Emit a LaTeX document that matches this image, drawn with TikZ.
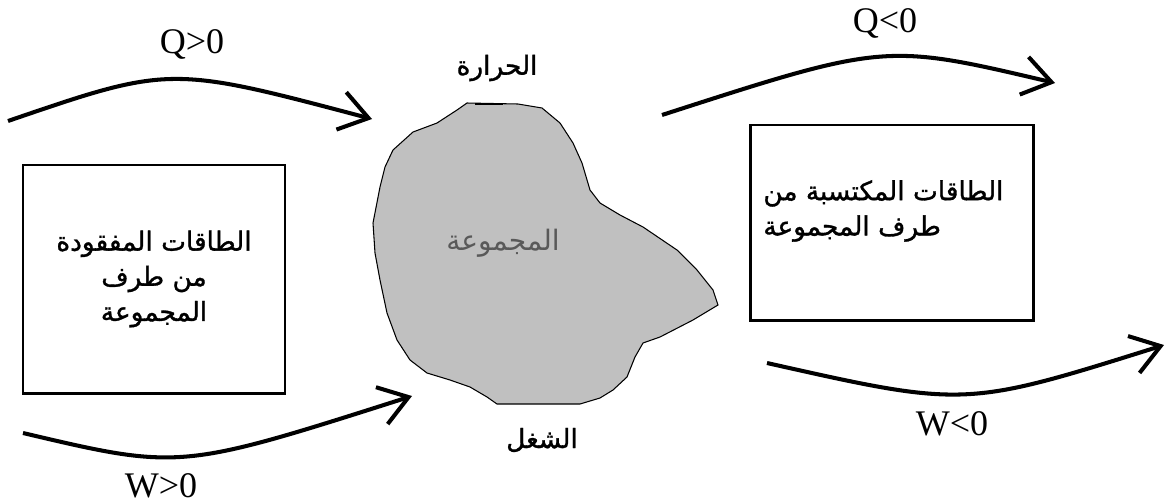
\documentclass[tikz,border=0pt]{standalone}
\usepackage{fontspec}
\setmainfont{Liberation Serif}
\newfontfamily\arabicfont[Script=Arabic, FakeBold=1.2]{DejaVu Sans}
\newfontfamily\arabiclight[Script=Arabic]{DejaVu Sans}
\TeXXeTstate=1
\usepackage{xcolor}
\usepackage{tikz}
\usetikzlibrary{arrows.meta,positioning}
\definecolor{blobgray}{HTML}{C0C0C0}

\begin{document}
\begin{tikzpicture}[
  >={Straight Barb[length=16pt,width=22pt]},
  flow/.style={->, line width=2.3pt},
  frame/.style={draw, line width=1.7pt},
  sign/.style={anchor=base, font=\fontsize{20.5}{24}\selectfont},
  artext/.style={font=\arabicfont\fontsize{15}{20}\selectfont, align=center, inner sep=0pt}
]
\useasboundingbox (0,0) rectangle (23.36,10.06);

% The system: grey blob in the middle
\filldraw[fill=blobgray, draw=black, line width=0.6pt]
  (9.34,8.00) -- (10.36,7.98) -- (10.84,7.90) -- (11.20,7.60) -- (11.46,7.20)
  -- (11.64,6.80) -- (11.80,6.26) -- (12.00,6.00) -- (12.40,5.76) -- (12.86,5.52)
  -- (13.54,5.06) -- (13.94,4.66) -- (14.26,4.26) -- (14.36,3.96) -- (13.86,3.66)
  -- (13.20,3.32) -- (12.86,3.20) -- (12.70,2.92) -- (12.54,2.52) -- (12.26,2.26)
  -- (12.00,2.10) -- (11.60,1.98) -- (9.94,1.98) -- (9.74,2.12) -- (9.40,2.32)
  -- (9.00,2.46) -- (8.54,2.60) -- (8.20,2.86) -- (7.94,3.26) -- (7.74,3.80)
  -- (7.60,4.46) -- (7.50,5.00) -- (7.46,5.60) -- (7.60,6.32) -- (7.70,6.72)
  -- (7.86,7.06) -- (8.26,7.42) -- (8.74,7.60) -- (9.14,7.86) -- cycle;
\draw[line width=1.3pt] (9.50,7.98) -- (10.06,7.98);
\node[artext, text=black!65, font=\arabiclight\fontsize{16}{18}\selectfont] (sys) at (10.06,5.20) {\beginR المجموعة\endR};

% heat and work labels
\node[artext] (heat) at (9.94,8.70) {\beginR الحرارة\endR};
\node[artext] (work) at (10.84,1.26) {\beginR الشغل\endR};

% Left box: energy lost by the system
\node[frame, artext, minimum width=5.24cm, minimum height=4.56cm] (lost) at (3.08,4.48)
  {\beginR الطاقات المفقودة\endR\\ \beginR من طرف\endR\\ \beginR المجموعة\endR};

% Right box: energy gained by the system
\node[frame, minimum width=5.66cm, minimum height=3.90cm] (gained) at (17.83,5.61) {};
\node[artext, align=left, anchor=west] (gainedtext) at (15.26,5.84)
  {\beginR الطاقات المكتسبة من\endR\\ \beginR طرف المجموعة\endR};

% Heat arrows
\coordinate (qins) at (0.16,7.64);
\coordinate (qine) at (7.44,7.68);
\draw[flow] (qins) .. controls (3.40,8.75) .. (qine);
\node[sign] (qin) at (3.84,9.00) {Q>0};

\coordinate (qouts) at (13.24,7.76);
\coordinate (qoute) at (21.10,8.40);
\draw[flow] (qouts) .. controls (17.70,9.20) .. (qoute);
\node[sign] (qout) at (17.70,9.42) {Q<0};

% Work arrows
\coordinate (wins) at (0.46,1.40);
\coordinate (wine) at (8.24,2.14);
\draw[flow] (wins) .. controls (3.60,0.66) .. (wine);
\node[sign] (win) at (3.22,0.12) {W>0};

\coordinate (wouts) at (15.34,2.80);
\coordinate (woute) at (23.28,3.16);
\draw[flow] (wouts) .. controls (19.30,1.91) .. (woute);
\node[sign] (wout) at (19.04,1.36) {W<0};

\end{tikzpicture}
\end{document}
